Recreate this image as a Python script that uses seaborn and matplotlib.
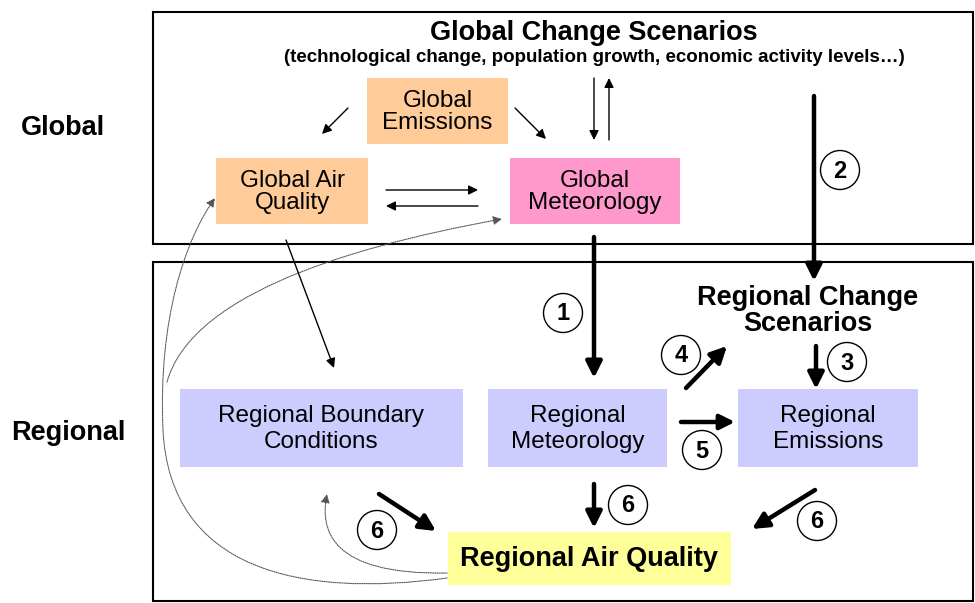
import matplotlib
matplotlib.use("Agg")
import matplotlib.pyplot as plt
import seaborn as sns
from matplotlib.patches import Rectangle, Circle, FancyArrowPatch
from matplotlib.path import Path

# --- diagram content ---
level_labels = ["Global", "Regional"]
title = "Global Change Scenarios"
subtitle = "(technological change, population growth, economic activity levels\u2026)"
box_labels = [
    "Global\nEmissions",
    "Global Air\nQuality",
    "Global\nMeteorology",
    "Regional Boundary\nConditions",
    "Regional\nMeteorology",
    "Regional\nEmissions",
    "Regional Air Quality",
]
regional_scenarios = "Regional Change\nScenarios"
step_numbers = ["1", "2", "3", "4", "5", "6", "6", "6"]

# --- layout (pixel space, y down) ---
box_xy = [
    (367, 78, 141, 66),
    (216, 158, 152, 66),
    (510, 158, 170, 66),
    (180, 389, 283, 78),
    (488, 389, 179, 78),
    (738, 389, 180, 78),
    (448, 532, 283, 53),
]
box_colors = ["#FFCC99", "#FFCC99", "#FF99CC", "#CCCCFF", "#CCCCFF", "#CCCCFF", "#FFFF99"]
circle_xy = [(563, 313), (840, 170), (847, 362), (681, 355), (702, 450),
             (377, 530), (628, 505), (817, 521)]

sns.set_style("white")
plt.rcParams["font.family"] = ["Liberation Sans", "DejaVu Sans"]
plt.rcParams["text.color"] = "black"

fig = plt.figure(figsize=(9.75, 6.03), dpi=100)
ax = fig.add_axes([0, 0, 1, 1])
ax.set_xlim(0, 975)
ax.set_ylim(603, 0)
ax.axis("off")

# outer frames
ax.add_patch(Rectangle((153, 12), 820, 232, fill=False, lw=1.5, ec="black"))
ax.add_patch(Rectangle((153, 262), 820, 339, fill=False, lw=1.5, ec="black"))

ax.text(63, 128, level_labels[0], ha="center", va="center", fontsize=19.5, weight="bold")
ax.text(68, 433, level_labels[1], ha="center", va="center", fontsize=19.5, weight="bold")
ax.text(594, 33, title, ha="center", va="center", fontsize=19.5, weight="bold")
ax.text(594, 58, subtitle, ha="center", va="center", fontsize=13.5, weight="bold")
ax.text(808, 311, regional_scenarios, ha="center", va="center", fontsize=19.5,
        weight="bold", linespacing=0.97)

for i, (label, (x, y, w, h), c) in enumerate(zip(box_labels, box_xy, box_colors)):
    ax.add_patch(Rectangle((x, y), w, h, fc=c, ec="none", zorder=1))
    bold = label == "Regional Air Quality"
    ax.text(x + w / 2, y + h / 2 + 1, label, ha="center", va="center",
            fontsize=19.5 if bold else 17.5, weight="bold" if bold else "normal",
            linespacing=1.0 if i < 3 else 1.25, zorder=3)


def arrow(p0, p1, lw=1.0, ms=14, color="black"):
    ax.annotate("", xy=p1, xytext=p0,
                arrowprops=dict(arrowstyle="-|>", lw=lw, color=color,
                                mutation_scale=ms, shrinkA=0, shrinkB=0))


# thin arrows in global box
arrow((348, 108), (322, 134))
arrow((515, 108), (546, 139))
arrow((594, 78), (594, 140))
arrow((609, 140), (609, 78))
arrow((386, 190), (478, 190))
arrow((478, 206), (386, 206))
arrow((286, 240), (334, 368))

# thick arrows
arrow((814, 96), (814, 281), lw=3.2, ms=24)
arrow((594, 237), (594, 378), lw=3.2, ms=24)
arrow((816, 346), (816, 389), lw=3.2, ms=24)
arrow((686, 388), (727, 346), lw=3.2, ms=24)
arrow((681, 422), (735, 422), lw=3.2, ms=22)
arrow((594, 484), (594, 528), lw=3.2, ms=24)
arrow((379, 494), (436, 531), lw=3.2, ms=24)
arrow((815, 490), (752, 529), lw=3.2, ms=24)

# dotted feedback curves
dotted = dict(arrowstyle="-|>", mutation_scale=13, lw=0.8, ls=(0, (1, 1)),
              color="#555555", shrinkA=0, shrinkB=0)
p1 = Path([(447, 578), (300, 598), (170, 570), (163, 430),
           (158, 320), (185, 240), (215, 198)],
          [Path.MOVETO, Path.CURVE4, Path.CURVE4, Path.CURVE4,
           Path.CURVE4, Path.CURVE4, Path.CURVE4])
ax.add_patch(FancyArrowPatch(path=p1, **dotted))
p2 = Path([(167, 382), (190, 300), (330, 250), (502, 219)],
          [Path.MOVETO, Path.CURVE4, Path.CURVE4, Path.CURVE4])
ax.add_patch(FancyArrowPatch(path=p2, **dotted))
p3 = Path([(447, 573), (330, 575), (320, 530), (327, 494)],
          [Path.MOVETO, Path.CURVE4, Path.CURVE4, Path.CURVE4])
ax.add_patch(FancyArrowPatch(path=p3, **dotted))

# numbered circles
for n, (cx, cy) in zip(step_numbers, circle_xy):
    ax.add_patch(Circle((cx, cy), 19.5, fc="white", ec="black", lw=1.0, zorder=4))
    ax.text(cx, cy + 1, n, ha="center", va="center", fontsize=17, weight="bold", zorder=5)

fig.savefig("out.png", dpi=100)
